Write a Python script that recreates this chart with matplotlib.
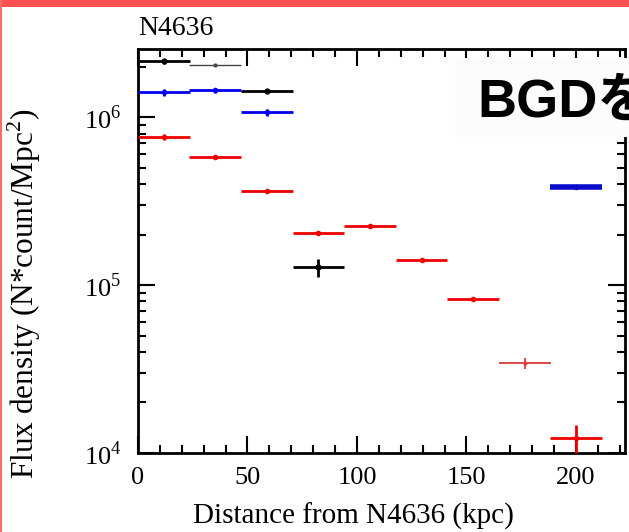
import numpy as np
import matplotlib
matplotlib.use("Agg")
import matplotlib.pyplot as plt
from matplotlib.patches import Rectangle
from matplotlib.ticker import LogLocator, MultipleLocator, FixedLocator, FixedFormatter

plt.rcParams['font.family'] = ['Liberation Serif', 'DejaVu Serif']
plt.rcParams['mathtext.fontset'] = 'custom'
plt.rcParams['mathtext.rm'] = 'Liberation Serif'

# radial bins (kpc), half width of each bin
half_w = 11.8

# black profile
black_x = [11.8, 58.9, 82.4]
black_y = [2.15e6, 1.43e6, 1.28e5]
black_err = [0.08e6, 0.04e6, 0.16e5]
# thin grey bin
grey_x = [35.3]
grey_y = [2.04e6]
grey_err = [0.03e6]

# blue profile
blue_x = [11.8, 35.3, 58.9]
blue_y = [1.41e6, 1.45e6, 1.07e6]
blue_err = [0.07e6, 0.05e6, 0.05e6]
# background level
bgd_x = [200.1]
bgd_y = [3.83e5]
bgd_err = [0.1e5]

# red profile
red_x = [11.8, 35.3, 58.9, 82.4, 105.9, 129.5, 153.0, 200.1]
red_y = [7.6e5, 5.78e5, 3.63e5, 2.04e5, 2.24e5, 1.41e5, 8.26e4, 1.23e4]
red_err = [0.3e5, 0.15e5, 0.1e5, 0.06e5, 0.06e5, 0.04e5, 0.2e4, 0.23e4]
pink_x = [176.6]
pink_y = [3.43e4]
pink_err = [0.25e4]

xticks = [0, 50, 100, 150, 200]
yticks = [1e4, 1e5, 1e6]
ytick_labels = ['10$^4$', '10$^5$', '10$^6$']

fig = plt.figure(figsize=(6.29, 5.32), dpi=100)
ax = fig.add_axes([138/629, 79/532, 487/629, 404/532])


def draw(x, y, err, color, lw, ms):
    ax.errorbar(x, y, xerr=half_w, yerr=err, fmt='o', color=color,
                ecolor=color, elinewidth=lw, markersize=ms, capsize=0,
                markeredgewidth=0, clip_on=False, zorder=3)


draw(black_x, black_y, black_err, 'black', 2.0, 4.5)
draw(grey_x, grey_y, grey_err, '#444444', 1.0, 3)
draw(blue_x, blue_y, blue_err, '#0000ee', 2.0, 4)
draw(bgd_x, bgd_y, bgd_err, '#0a0acc', 4.0, 4)
draw(red_x, red_y, red_err, '#ee0000', 2.0, 4)
draw(pink_x, pink_y, pink_err, '#dd3a3a', 1.3, 3)

ax.set_yscale('log')
ax.set_xlim(0, 222.4)
ax.set_ylim(1e4, 2.55e6)

ax.xaxis.set_major_locator(FixedLocator(xticks))
ax.xaxis.set_minor_locator(MultipleLocator(10))
ax.yaxis.set_major_locator(FixedLocator(yticks))
ax.yaxis.set_major_formatter(FixedFormatter(ytick_labels))
ax.yaxis.set_minor_locator(LogLocator(base=10, subs=np.arange(2, 10)))
ax.yaxis.set_minor_formatter(FixedFormatter([]))

ax.tick_params(which='both', direction='in', top=True, right=True, width=1.5)
ax.tick_params(axis='x', labelsize=19, pad=10)
ax.tick_params(axis='y', labelsize=19, pad=12)
ax.tick_params(which='major', length=12)
ax.tick_params(which='minor', length=6)
for s in ax.spines.values():
    s.set_linewidth(2)

ax.set_xlabel('Distance from N4636 (kpc)', fontsize=21)
ax.set_ylabel('Flux density (N*count/Mpc$^2$)', fontsize=22.5)
ax.xaxis.set_label_coords(0.4415, -0.124)
ax.yaxis.set_label_coords(-0.195, 0.395)
ax.set_title('N4636', loc='left', fontsize=20, pad=10)

# slide decorations
fig.patches.append(Rectangle((455/629, (532-137)/532), 1, 79/532,
                             transform=fig.transFigure, facecolor='#fcfcfc',
                             edgecolor='none', zorder=4))
fig.text(477/629, (532-117)/532, 'BGDを', fontsize=39, fontweight='bold',
         family=['Liberation Sans', 'Noto Sans CJK JP'], va='baseline',
         zorder=5)
fig.patches.append(Rectangle((0, 1-7/532), 1, 7/532, transform=fig.transFigure,
                             facecolor='#ff5050', edgecolor='none', zorder=6))
fig.patches.append(Rectangle((0, 0), 2/629, 1, transform=fig.transFigure,
                             facecolor='#ff6b6b', edgecolor='none', zorder=6))

fig.savefig('out.png', dpi=100)
